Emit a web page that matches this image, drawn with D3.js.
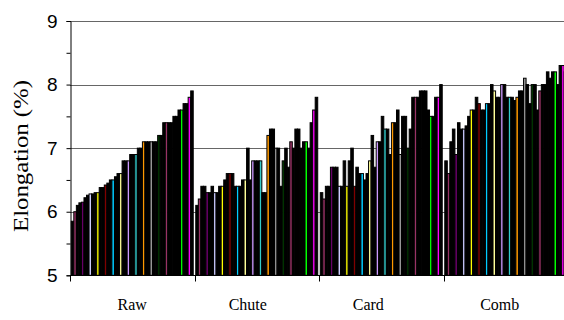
<!DOCTYPE html>
<html><head><meta charset="utf-8">
<script src="https://cdn.jsdelivr.net/npm/d3@7"></script>
<style>html,body{margin:0;padding:0;background:#fff}svg{display:block}</style>
</head><body>
<svg id="chart" width="564" height="320"></svg>
<script>
const categories = ["Raw", "Chute", "Card", "Comb"];
const raw   = [5.85,6.0,6.1,6.14,6.15,6.22,6.26,6.28,6.28,6.3,6.3,6.38,6.38,6.42,6.45,6.5,6.5,6.55,6.6,6.6,6.8,6.8,6.8,6.9,6.9,6.9,7.0,7.0,7.1,7.1,7.1,7.1,7.1,7.1,7.2,7.2,7.4,7.4,7.4,7.4,7.5,7.5,7.6,7.6,7.7,7.7,7.8,7.9];
const chute = [6.1,6.2,6.4,6.4,6.3,6.3,6.4,6.3,6.3,6.4,6.4,6.5,6.6,6.6,6.6,6.4,6.4,6.4,6.5,6.5,7.0,6.5,6.8,6.8,6.8,6.8,6.3,6.3,7.2,7.3,7.3,7.0,7.0,6.4,6.8,7.0,6.7,7.1,7.0,7.3,7.3,7.0,7.1,7.1,7.0,7.4,7.6,7.8];
const card  = [6.3,6.2,6.4,6.4,6.7,6.7,6.7,6.4,6.4,6.8,6.4,6.8,7.0,6.4,6.7,6.6,6.6,6.5,6.6,6.8,7.2,6.7,7.1,7.1,7.5,7.3,7.3,6.9,7.4,7.4,7.6,6.9,7.5,7.5,7.0,7.3,7.8,7.8,7.8,7.9,7.9,7.9,7.6,7.5,7.5,7.8,7.8,8.0];
const comb  = [6.8,6.6,7.1,7.3,6.9,7.4,7.3,7.3,7.35,7.5,7.6,7.6,7.8,7.7,7.6,7.6,7.7,7.7,8.0,7.9,7.8,7.8,8.0,8.0,7.8,7.8,7.8,7.75,7.8,7.9,7.9,8.1,8.0,7.7,8.0,8.0,7.6,7.9,8.0,8.0,8.2,8.1,8.2,8.2,8.0,8.3,8.3,8.2];
const yMajorTicks = [5, 6, 7, 8, 9];
const yMinorTicks = [5.5, 6.5, 7.5, 8.5];
const yTitle = "Elongation (%)";

// Excel default series palette (style)
const seriesColors = ["#9999FF","#993366","#FFFFCC","#CCFFFF","#660066","#FF8080","#0066CC","#CCCCFF","#000080","#FF00FF","#FFFF00","#00FFFF","#800080","#800000","#008080","#0000FF","#00CCFF","#CCFFFF","#CCFFCC","#FFFF99","#99CCFF","#FF99CC","#CC99FF","#FFCC99","#3366FF","#33CCCC","#99CC00","#FFCC00","#FF9900","#FF6600","#666699","#969696","#003366","#339966","#003300","#333300","#993300","#993366","#333399","#333333","#000000","#FFFFFF","#FF0000","#00FF00","#0000FF","#FFFF00","#FF00FF","#00FFFF"];
// label nudges (style) to match the reference placement
const labelShift = {Raw: 0, Chute: -9, Card: -13, Comb: -6};

const seriesByCat = {Raw: raw, Chute: chute, Card: card, Comb: comb};
const nSeries = raw.length;

const svg = d3.select("#chart");
const x0 = d3.scaleBand().domain(categories).range([70, 568]).padding(0);
const x1 = d3.scaleBand().domain(d3.range(nSeries)).range([0, x0.bandwidth()]).paddingInner(0).paddingOuter(0.5);
const y = d3.scaleLinear().domain([5, 9]).range([275.3, 21]);

// gridlines
svg.append("g").selectAll("line").data(yMajorTicks.filter(d => d > 5)).join("line")
  .attr("x1", 70).attr("x2", 564)
  .attr("y1", d => Math.round(y(d)) + 0.5).attr("y2", d => Math.round(y(d)) + 0.5)
  .attr("stroke", "#666").attr("stroke-width", 1);

// bars
const gBars = svg.append("g");
categories.forEach(c => {
  gBars.append("g").selectAll("rect").data(seriesByCat[c]).join("rect")
    .attr("x", (d, i) => x0(c) + x1(i))
    .attr("width", x1.bandwidth())
    .attr("y", d => y(d))
    .attr("height", d => y(5) - y(d))
    .attr("fill", (d, i) => i % 3 === 1 ? seriesColors[i] : "#000")
    .attr("stroke", "#000").attr("stroke-width", 1);
});

// y axis
const yAxisG = svg.append("g").attr("transform", "translate(70.5,0)");
yAxisG.call(d3.axisLeft(y).tickValues(yMajorTicks).tickFormat(d3.format("d")).tickSize(4).tickPadding(9));
svg.append("g").attr("transform", "translate(70.5,0)")
  .call(d3.axisLeft(y).tickValues(yMinorTicks).tickFormat("").tickSize(4))
  .select(".domain").remove();
svg.selectAll(".tick line").attr("stroke", "#000");
yAxisG.select(".domain").attr("stroke", "#000");
yAxisG.selectAll("text").attr("font-family", "'Liberation Sans', Arial, sans-serif").attr("font-size", 19).attr("fill", "#000");

// x axis
const xAxisG = svg.append("g").attr("transform", "translate(0," + (Math.round(y(5)) + 0.5) + ")");
xAxisG.call(d3.axisBottom(x0).tickSize(0).tickPadding(0));
xAxisG.select(".domain").attr("d", "M70,0H564").attr("stroke", "#000");
xAxisG.selectAll("text").attr("dy", 0).attr("y", 34)
  .attr("dx", d => labelShift[d])
  .attr("font-family", "'Liberation Serif', 'Times New Roman', serif").attr("font-size", 16).attr("fill", "#000");
xAxisG.append("g").selectAll("line").data(categories).join("line")
  .attr("x1", d => Math.round(x0(d)) + 0.5).attr("x2", d => Math.round(x0(d)) + 0.5)
  .attr("y1", 0).attr("y2", 6).attr("stroke", "#000");

// y title
svg.append("text")
  .attr("transform", "translate(27.5,156) rotate(-90)")
  .attr("text-anchor", "middle")
  .attr("font-family", "'Liberation Serif', 'Times New Roman', serif")
  .attr("font-size", 21)
  .attr("textLength", 152).attr("lengthAdjust", "spacingAndGlyphs")
  .text(yTitle);
</script>
</body></html>
